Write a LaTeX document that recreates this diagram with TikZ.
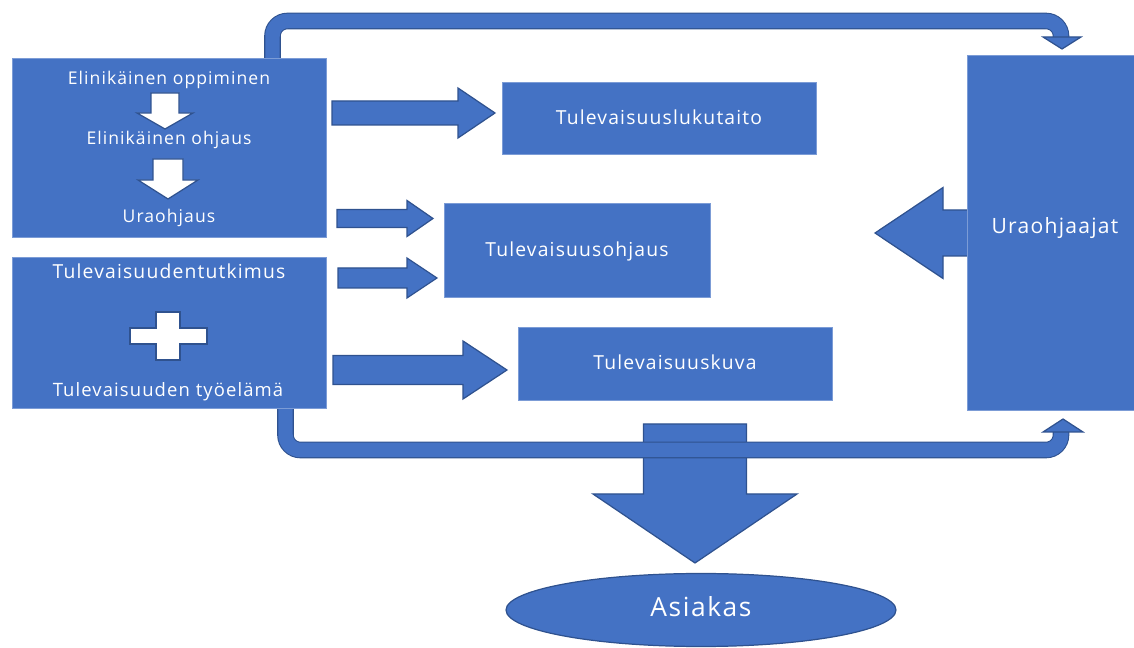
\documentclass[tikz,border=0pt]{standalone}
\usepackage{fontspec}
\setmainfont{Open Sans}[LetterSpace=6]
\usetikzlibrary{shapes.geometric, calc}
\definecolor{boxblue}{HTML}{4472C4}
\definecolor{edgeblue}{HTML}{2F528F}

\begin{document}
\begin{tikzpicture}[
    x=0.02cm, y=-0.02cm,
    bluebox/.style={rectangle, draw=boxblue!70!white, fill=boxblue, line width=0.5pt, text=white, inner sep=0pt, text height=0.72em, text depth=0pt, font=\fontsize{11}{13}\selectfont},
    boxtext/.style={text=white, inner sep=0pt, anchor=base, font=\fontsize{10}{12}\selectfont},
    arrowshape/.style={draw=edgeblue, fill=boxblue, line width=0.7pt, line join=miter},
    whiteshape/.style={draw=edgeblue, fill=white, line width=0.7pt, line join=miter},
    bentline/.style={draw=edgeblue, line width=0.6pt, double=boxblue, double distance=0.29cm, rounded corners=0.3cm},
    pics/blockarrow/.style n args={4}{code={
      \draw[pic actions] (0,-#2) -- ({#1-#4},-#2) -- ({#1-#4},-#3) -- (#1,0)
        -- ({#1-#4},#3) -- ({#1-#4},#2) -- (0,#2) -- cycle;}}
  ]
    \useasboundingbox (0,0) rectangle (1134,648);

    % Bend points of the two long arrows
    \coordinate (topfrom) at (272.5,58);
    \coordinate (topto) at (1061,37);
    \coordinate (botfrom) at (285.5,408);
    \coordinate (botto) at (1061,432);

    % Long arrow over the top, to Uraohjaajat
    \draw[bentline] (topfrom) -- (272.5,21) -| (topto);
    \draw[arrowshape] (1043,37) -- (1081,37) -- (1062,49) -- cycle;

    % Big arrow down to Asiakas
    \pic[arrowshape, rotate=-90] at (695,424) {blockarrow={139}{51.5}{102}{69}};

    % Long arrow under the boxes, to Uraohjaajat
    \draw[bentline] (botfrom) -- (285.5,450) -| (botto);
    \draw[arrowshape] (1043,432) -- (1083,432) -- (1063,419) -- cycle;

    % Arrow from Uraohjaajat to the left
    \pic[arrowshape, rotate=180] at (975,233) {blockarrow={100}{23}{45.5}{68}};

    % Left boxes
    \node[bluebox, minimum width=6.28cm, minimum height=3.58cm] (lifebox) at (169,147.5) {};
    \node[bluebox, minimum width=6.28cm, minimum height=3.02cm] (futbox) at (169,332.5) {};

    % Middle boxes
    \node[bluebox, minimum width=6.28cm, minimum height=1.44cm] (litbox) at (659,118) {Tulevaisuuslukutaito};
    \node[bluebox, minimum width=5.32cm, minimum height=1.88cm] (guidbox) at (577,250) {Tulevaisuusohjaus};
    \node[bluebox, minimum width=6.28cm, minimum height=1.46cm] (imgbox) at (675,363.5) {Tulevaisuuskuva};

    % Right box
    \node[bluebox, minimum width=3.34cm, minimum height=7.1cm] (counselbox) at (1050.5,232.5) {};
    \node[boxtext, font=\fontsize{12}{14}\selectfont] (counseltext) at (1055,233.5) {Uraohjaajat};

    % Texts in the left boxes
    \node[boxtext] (learn) at (169,85) {Elinikäinen oppiminen};
    \node[boxtext] (lifeguid) at (169,145) {Elinikäinen ohjaus};
    \node[boxtext] (career) at (169,223) {Uraohjaus};
    \node[boxtext, font=\fontsize{11}{13}\selectfont] (research) at (169,279) {Tulevaisuudentutkimus};
    \node[boxtext, font=\fontsize{10.5}{12.5}\selectfont] (worklife) at (168,397) {Tulevaisuuden työelämä};

    % White arrows and plus sign
    \pic[whiteshape, rotate=-90] at (165,93) {blockarrow={36}{14}{28}{16}};
    \pic[whiteshape, rotate=-90] at (168,159) {blockarrow={40}{15}{30}{19}};
    \draw[whiteshape] (156,312) -- (180,312) -- (180,328) -- (207,328) -- (207,344) -- (180,344)
      -- (180,360) -- (156,360) -- (156,344) -- (130,344) -- (130,328) -- (156,328) -- cycle;

    % Arrows from the left boxes to the middle boxes
    \pic[arrowshape] at (332,113) {blockarrow={163}{12}{25}{37}};
    \pic[arrowshape] at (337,218.5) {blockarrow={96}{9}{18}{26}};
    \pic[arrowshape] at (338,278) {blockarrow={99}{10}{20}{30}};
    \pic[arrowshape] at (333,370) {blockarrow={174}{14.5}{29}{44}};

    % Asiakas
    \node[ellipse, draw=edgeblue, fill=boxblue, line width=0.7pt, inner sep=0pt, minimum width=7.8cm, minimum height=1.46cm, text=white, text height=0.72em, text depth=0pt, font=\fontsize{15}{17}\selectfont] (client) at (701,610) {Asiakas};
  \end{tikzpicture}
\end{document}
